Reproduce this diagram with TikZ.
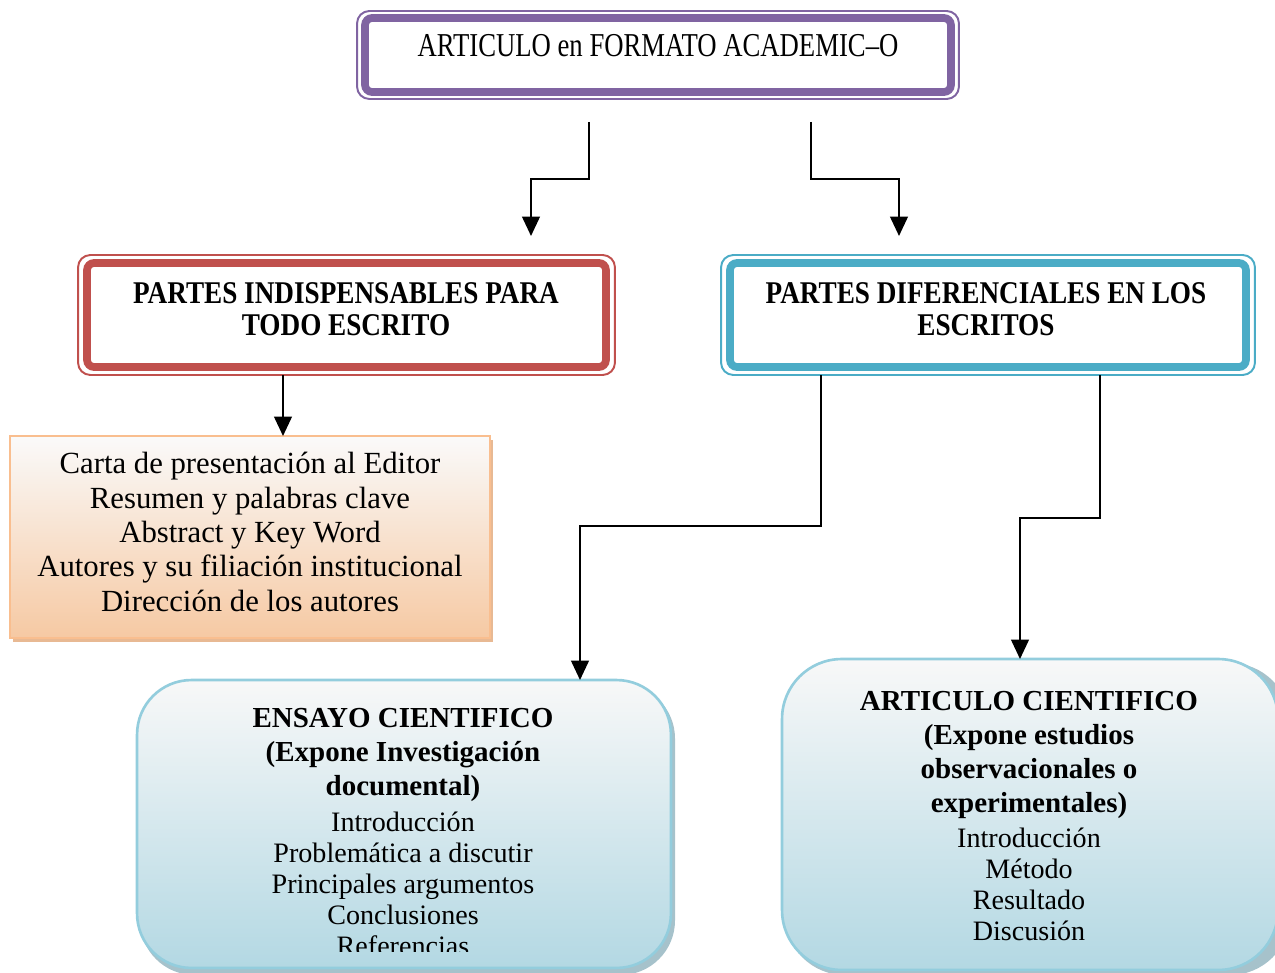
\documentclass[tikz,border=0pt]{standalone}
\usepackage{fontspec}
\setmainfont{Liberation Serif}
\newfontfamily\narrowfont[FakeStretch=0.8]{Liberation Serif}
\newfontfamily\headfont[FakeStretch=0.86]{Liberation Serif}
\usetikzlibrary{arrows.meta,calc}
\definecolor{cpurple}{HTML}{8064A2}
\definecolor{cred}{HTML}{C0504D}
\definecolor{cblue}{HTML}{4BACC6}
\definecolor{corangeb}{HTML}{F9BE8F}
\definecolor{corangetop}{HTML}{FAFAFA}
\definecolor{corangebot}{HTML}{F6C9A3}
\definecolor{coshadow}{HTML}{E8B993}
\definecolor{clbluebd}{HTML}{93CDDD}
\definecolor{clbluetop}{HTML}{F8F8F8}
\definecolor{clbluebot}{HTML}{B3D8E3}
\definecolor{cshadow}{HTML}{A6C2CB}
\begin{document}
\begin{tikzpicture}[x=0.02cm,y=-0.02cm,
  frame/.style={draw, line width=1.1pt, rounded corners=7pt, inner sep=0pt, outer sep=0pt},
  band/.style={line width=4.4pt, rounded corners=4pt},
  arr/.style={draw=black, line width=1.3pt, -{Triangle[width=10pt,length=11pt]}},
  headtxt/.style={font=\headfont\fontsize{18}{18.1}\selectfont\bfseries, align=center, inner sep=0pt},
  listtxt/.style={font=\fontsize{17.5}{19.6}\selectfont, align=center, inner sep=0pt},
  boldtxt/.style={font=\fontsize{16.5}{19.3}\selectfont\bfseries, align=center, inner sep=0pt},
  regtxt/.style={font=\fontsize{16}{17.6}\selectfont, align=center, inner sep=0pt},
  softbox/.style={draw=clbluebd, line width=1.5pt, top color=clbluetop, bottom color=clbluebot, inner sep=0pt, outer sep=0pt}
]
\clip (0,0) rectangle (1275,973);

% top box
\node[frame, draw=cpurple, minimum width=12.04cm, minimum height=1.76cm] (top) at (658,55) {};
\draw[band, draw=cpurple] ([shift={(8,7)}]top.north west) rectangle ([shift={(-8,-7)}]top.south east);
\node[font=\narrowfont\fontsize{19}{20}\selectfont, inner sep=0pt] (toptxt) at (658,46) {ARTICULO en FORMATO ACADEMIC\textendash O};

% red box
\node[frame, draw=cred, minimum width=10.74cm, minimum height=2.4cm] (indis) at (346.5,315) {};
\draw[band, draw=cred] ([shift={(9,8)}]indis.north west) rectangle ([shift={(-9,-8)}]indis.south east);
\node[headtxt] (indistxt) at (346,309) {PARTES INDISPENSABLES PARA\\TODO ESCRITO};

% blue box
\node[frame, draw=cblue, minimum width=10.68cm, minimum height=2.4cm] (difer) at (988,315) {};
\draw[band, draw=cblue] ([shift={(9,8)}]difer.north west) rectangle ([shift={(-9,-8)}]difer.south east);
\node[headtxt] (difertxt) at (986,309) {PARTES DIFERENCIALES EN LOS\\ESCRITOS};

% orange box
\fill[coshadow] (13,440) rectangle (493,642);
\node[draw=corangeb, line width=1.2pt, minimum width=9.6cm, minimum height=4.04cm, top color=corangetop, bottom color=corangebot, inner sep=0pt, outer sep=0pt] (carta) at (250,537) {};
\node[listtxt] (cartatxt) at (250,532) {Carta de presentación al Editor\\Resumen y palabras clave\\Abstract y Key Word\\Autores y su filiación institucional\\Dirección de los autores};

% ensayo box
\fill[cshadow, rounded corners=31pt] (140,684) rectangle (675,975);
\node[softbox, rounded corners=31pt, minimum width=10.68cm, minimum height=5.76cm] (ensayo) at (404,824) {};
\node[boldtxt] (ensayotit) at (403,755) {ENSAYO CIENTIFICO\\(Expone Investigación\\documental)};
\begin{scope}
\clip (137,680) rectangle (671,951);
\node[regtxt] (ensayotxt) at (403,884) {Introducción\\Problemática a discutir\\Principales argumentos\\Conclusiones\\Referencias};
\end{scope}

% articulo box
\fill[cshadow, rounded corners=34pt] (785,663) rectangle (1290,975);
\node[softbox, rounded corners=34pt, minimum width=9.92cm, minimum height=6.22cm] (artic) at (1030,814.5) {};
\node[boldtxt] (artictit) at (1029,755) {ARTICULO CIENTIFICO\\(Expone estudios\\observacionales o\\experimentales)};
\node[regtxt] (artictxt) at (1029,884) {Introducción\\Método\\Resultado\\Discusión};

% connectors
\coordinate (s1) at (589,122);
\coordinate (e1) at (531,236);
\draw[arr] (s1) |- ($(s1)!.5!(e1)$) -| (e1);
\coordinate (s2) at (811,122);
\coordinate (e2) at (899,236);
\draw[arr] (s2) |- ($(s2)!.5!(e2)$) -| (e2);
\coordinate (s3) at (283,375);
\draw[arr] (s3) -- (s3 |- carta.north);
\coordinate (s4) at (821,375);
\coordinate (k4) at (821,526);
\coordinate (x4) at (580,0);
\draw[arr] (s4) -- (k4) -| (x4 |- ensayo.north);
\coordinate (s5) at (1100,375);
\coordinate (k5) at (1100,518);
\coordinate (x5) at (1020,0);
\draw[arr] (s5) -- (k5) -| (x5 |- artic.north);
\end{tikzpicture}
\end{document}
